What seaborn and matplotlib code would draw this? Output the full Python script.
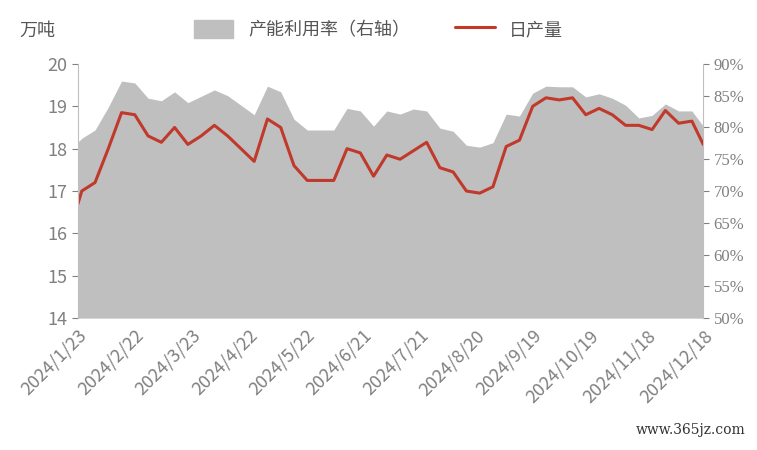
import matplotlib
matplotlib.use('Agg')
import matplotlib.pyplot as plt
from matplotlib.patches import Patch
from matplotlib.lines import Line2D
import pandas as pd
import seaborn as sns

dates = ['2024-01-23', '2024-01-25', '2024-02-01', '2024-02-08', '2024-02-15', '2024-02-22',
         '2024-02-29', '2024-03-07', '2024-03-14', '2024-03-21', '2024-03-28', '2024-04-04',
         '2024-04-11', '2024-04-18', '2024-04-25', '2024-05-02', '2024-05-09', '2024-05-16',
         '2024-05-23', '2024-05-30', '2024-06-06', '2024-06-13', '2024-06-20', '2024-06-27',
         '2024-07-04', '2024-07-11', '2024-07-18', '2024-07-25', '2024-08-01', '2024-08-08',
         '2024-08-15', '2024-08-22', '2024-08-29', '2024-09-05', '2024-09-12', '2024-09-19',
         '2024-09-26', '2024-10-03', '2024-10-10', '2024-10-17', '2024-10-24', '2024-10-31',
         '2024-11-07', '2024-11-14', '2024-11-21', '2024-11-28', '2024-12-05', '2024-12-12',
         '2024-12-18']
output = [16.7, 17.0, 17.2, 18.0, 18.85, 18.8, 18.3, 18.15, 18.5, 18.1, 18.3, 18.55,
          18.3, 18.0, 17.7, 18.7, 18.5, 17.6, 17.25, 17.25, 17.25, 18.0, 17.9, 17.35,
          17.85, 17.75, 17.95, 18.15, 17.55, 17.45, 17.0, 16.95, 17.1, 18.05, 18.2, 19.0,
          19.2, 19.15, 19.2, 18.8, 18.95, 18.8, 18.55, 18.55, 18.45, 18.9, 18.6, 18.65, 18.1]
util = [77.7, 78.3, 79.6, 83.2, 87.3, 87.0, 84.6, 84.2, 85.6, 83.9, 84.9, 85.9,
        85.0, 83.5, 82.0, 86.5, 85.6, 81.3, 79.6, 79.6, 79.6, 83.0, 82.6, 80.2,
        82.6, 82.1, 82.9, 82.6, 79.9, 79.4, 77.2, 76.9, 77.6, 82.1, 81.8, 85.4,
        86.5, 86.4, 86.4, 84.8, 85.3, 84.6, 83.5, 81.5, 81.9, 83.7, 82.6, 82.6, 80.2]
tick_dates = ['2024-01-23', '2024-02-22', '2024-03-23', '2024-04-22', '2024-05-22', '2024-06-21',
              '2024-07-21', '2024-08-20', '2024-09-19', '2024-10-19', '2024-11-18', '2024-12-18']

df = pd.DataFrame({'date': pd.to_datetime(dates), 'output': output, 'util': util})

sns.set_style('white')
plt.rcParams['font.family'] = ['Noto Sans CJK SC', 'DejaVu Sans']
grey_txt = '#808080'
red = '#c0392b'

fig = plt.figure(figsize=(7.57, 4.5), dpi=100)
ax = fig.add_axes([0.103, 0.293, 0.826, 0.565])
ax2 = ax.twinx()

# 产能利用率 面积图（右轴）
ax2.fill_between(df['date'], df['util'], 50, color='#bfbfbf', linewidth=0)
ax2.set_ylim(50, 90)
ax2.set_yticks(range(50, 91, 5))
ax2.set_yticklabels([f'{v}%' for v in range(50, 91, 5)], family=['Liberation Serif', 'DejaVu Serif'])

# 日产量 折线（左轴）
sns.lineplot(data=df, x='date', y='output', ax=ax, color=red, linewidth=2.2)
ax.set_ylim(14, 20)
ax.set_zorder(ax2.get_zorder() + 1)
ax.patch.set_visible(False)

ticks = pd.to_datetime(tick_dates)
ax.set_xlim(ticks[0], ticks[-1])
ax.set_xticks(ticks)
ax.set_xticklabels([f'{t.year}/{t.month}/{t.day}' for t in ticks], rotation=45, ha='right',
                   rotation_mode='anchor', fontsize=13, color=grey_txt)
ax.set_xlabel('')
ax.set_ylabel('')
ax.tick_params(axis='y', labelsize=13, colors=grey_txt, length=4)
ax.tick_params(axis='x', length=0, pad=6)
ax2.tick_params(axis='y', labelsize=12, colors=grey_txt, length=4)
for a in (ax, ax2):
    for s in ('top', 'bottom'):
        a.spines[s].set_visible(False)
ax.spines['right'].set_visible(False)
ax2.spines['left'].set_visible(False)
ax.spines['left'].set_color('#bfbfbf')
ax2.spines['right'].set_color('#bfbfbf')

fig.text(0.025, 0.92, '万吨', fontsize=13, color='#555555')
handles = [Patch(color='#bfbfbf', label='产能利用率（右轴）'), Line2D([], [], color=red, lw=2.2, label='日产量')]
fig.legend(handles=handles, loc='center', bbox_to_anchor=(0.5, 0.935), ncol=2, frameon=False,
           fontsize=13, labelcolor='#555555', handlelength=2.2, handleheight=1.2, columnspacing=2.5)
fig.text(0.985, 0.035, 'www.365jz.com', ha='right', fontsize=10, color='#333333', family='DejaVu Serif')

fig.savefig('out.png', dpi=100)
